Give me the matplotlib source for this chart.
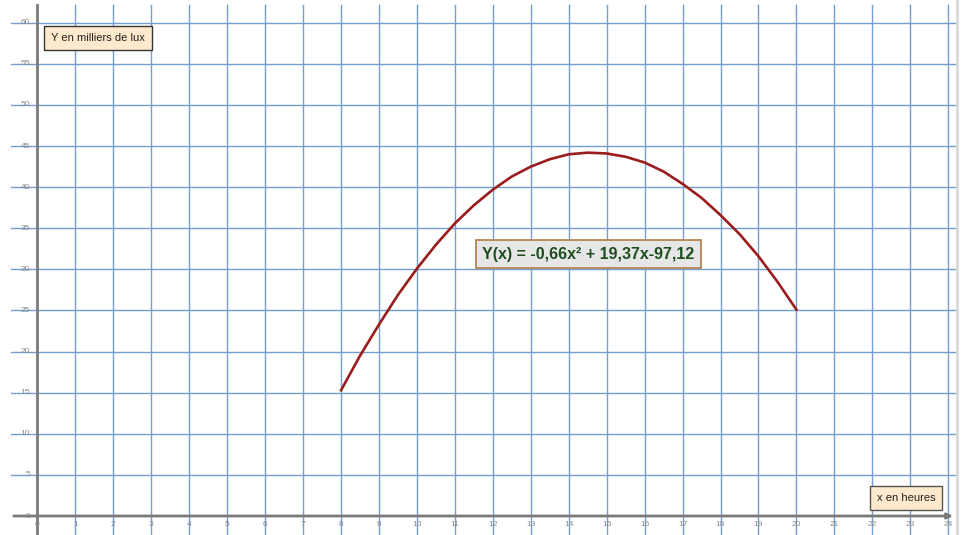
import numpy as np
import matplotlib.pyplot as plt

# ---------------- données ----------------
heures = [8, 8.5, 9, 9.5, 10, 10.5, 11, 11.5, 12, 12.5, 13, 13.5, 14, 14.5,
          15, 15.5, 16, 16.5, 17, 17.5, 18, 18.5, 19, 19.5, 20]
lux = [15.3, 19.5, 23.3, 26.9, 30.1, 33.0, 35.6, 37.8, 39.7, 41.3, 42.5, 43.4,
       44.0, 44.2, 44.1, 43.7, 43.0, 41.9, 40.4, 38.7, 36.6, 34.3, 31.6, 28.5, 25.1]
x_ticks = list(range(0, 25))
y_ticks = list(range(0, 61, 5))
equation = "Y(x) = -0,66x² + 19,37x-97,12"

plt.rcParams['font.family'] = ['Liberation Sans', 'DejaVu Sans']

# ---------------- figure ----------------
fig = plt.figure(figsize=(9.63, 5.35), dpi=100)
ax = fig.add_axes([0, 0, 1, 1])
ax.set_xlim(-0.988, 24.39)
ax.set_ylim(-2.31, 62.77)
ax.axis('off')

grid_c = '#729fcf'
# quadrillage
for xv in x_ticks[1:]:
    ax.plot([xv, xv], [-2.31, 62.2], color=grid_c, lw=1.0, zorder=1)
for yv in y_ticks[1:]:
    ax.plot([-0.7, 24.18], [yv, yv], color=grid_c, lw=1.0, zorder=1)

# axes
ax.plot([0, 0], [-2.31, 62.2], color='#7a7a7a', lw=2, zorder=2)
ax.annotate('', xy=(24.2, 0), xytext=(-0.7, 0),
            arrowprops=dict(arrowstyle='-|>', color='#7a7a7a', lw=2,
                            mutation_scale=8), zorder=2)
ax.plot([24.24, 24.24], [-2.31, 62.77], color='#d8d8d8', lw=2, zorder=1)

# graduations
for xv in x_ticks:
    ax.text(xv, -1.0, str(xv), ha='center', va='center', fontsize=6,
            color='#8a8a8a', zorder=3)
for yv in y_ticks:
    ax.text(-0.2, yv, str(yv), ha='right', va='center', fontsize=6,
            color='#8a8a8a', zorder=3)

# courbe
ax.plot(heures, lux, color='#9a1c1c', lw=1.9, zorder=4)

# étiquettes
ax.text(0.36, 58.15, "Y en milliers de lux", ha='left', va='center', fontsize=8,
        color='#222222', zorder=5,
        bbox=dict(boxstyle='square,pad=0.6', fc='#ffe9cc', ec='#333333', lw=1))
ax.text(22.12, 2.19, "x en heures", ha='left', va='center', fontsize=8,
        color='#222222', zorder=5,
        bbox=dict(boxstyle='square,pad=0.6', fc='#ffe9cc', ec='#555555', lw=1))
ax.text(14.52, 31.87, equation, ha='center', va='center', fontsize=11.5,
        fontweight='bold', color='#1d4d1d', zorder=5,
        bbox=dict(boxstyle='square,pad=0.4', fc='#e6e6e6', ec='#b07a45', lw=1.2))

fig.savefig('out.png', dpi=100)
